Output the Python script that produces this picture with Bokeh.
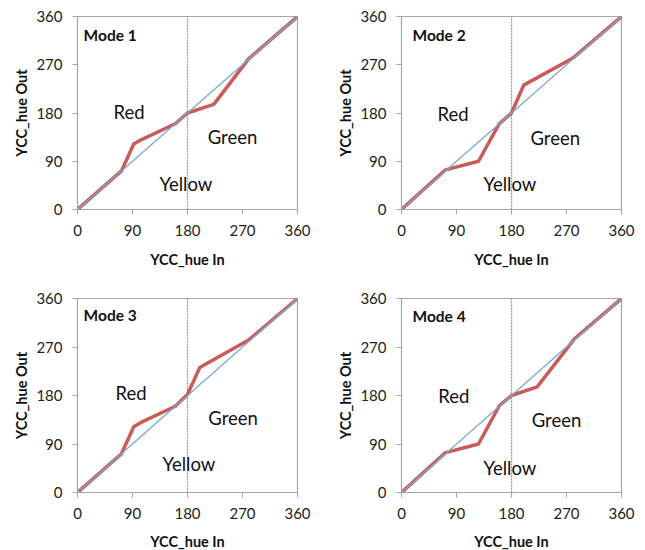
from bokeh.plotting import figure
from bokeh.layouts import column, row
from bokeh.models import Range1d, FixedTicker
from bokeh.core.properties import value
from bokeh.embed import file_html
from bokeh.resources import INLINE

# ---- data ----
ticks = [0, 90, 180, 270, 360]
diag_x = [0, 360]
diag_y = [0, 360]
split_x = [180, 180]
split_y = [0, 360]

mode1_x = [0, 72, 92, 104, 160, 180, 223, 280, 360]
mode1_y = [0, 72, 122, 130, 160, 180, 196, 281, 360]
mode2_x = [0, 72, 126, 160, 180, 200, 280, 360]
mode2_y = [0, 74, 90, 160, 180, 232, 282, 360]
mode3_x = [0, 72, 92, 104, 160, 180, 200, 280, 360]
mode3_y = [0, 72, 122, 130, 160, 182, 232, 283, 360]
mode4_x = [0, 72, 126, 160, 180, 222, 283, 360]
mode4_y = [0, 74, 90, 161, 180, 196, 285, 360]

titles = ["Mode 1", "Mode 2", "Mode 3", "Mode 4"]
title_x = [10, 18, 10, 18]
title_y = [326, 326, 330, 327]

region_names = ["Red", "Green", "Yellow"]
region_x = [[59, 213, 134], [59, 211, 134], [62, 214, 139], [60, 213, 134]]
region_y = [[181, 136, 48], [179, 134, 47], [184, 139, 52], [180, 134, 46]]

FONT = "Lato"
RED = "#C4534F"
BLUE = "#7BA7D7"
GRAY = "#A6A6A6"


def make(i, xs, ys, left, right, top, bottom, fh, xs_off, xa_off):
    p = figure(frame_width=220, frame_height=fh,
               x_range=Range1d(0, 360), y_range=Range1d(0, 360),
               output_backend="svg", toolbar_location=None,
               min_border_left=left, min_border_right=right,
               min_border_top=top, min_border_bottom=bottom,
               background_fill_color="white", border_fill_color="white")
    p.grid.visible = False
    p.outline_line_color = GRAY
    p.outline_line_width = 1.2
    p.xaxis.axis_label = "YCC_hue In"
    p.yaxis.axis_label = "YCC_hue Out"
    for ax in (p.xaxis, p.yaxis):
        ax.ticker = FixedTicker(ticks=ticks)
        ax.minor_tick_line_color = None
        ax.major_tick_in = 0
        ax.major_tick_out = 5
        ax.major_tick_line_color = GRAY
        ax.axis_line_color = GRAY
        ax.major_label_text_font = FONT
        ax.major_label_text_font_size = "15px"
        ax.major_label_text_color = "#222222"
        ax.axis_label_text_font = FONT
        ax.axis_label_text_font_size = "14.5px"
        ax.axis_label_text_font_style = "bold"
        ax.axis_label_text_color = "#111111"
    p.yaxis.major_label_standoff = 10
    p.yaxis.axis_label_standoff = 3
    p.xaxis.major_label_standoff = xs_off
    p.xaxis.axis_label_standoff = xa_off

    p.line(split_x, split_y, line_color="#9A9A9A", line_width=1.3, line_dash="2 1")
    p.line(xs, ys, line_color=RED, line_width=3.5, line_join="round", line_alpha=0.95)
    p.line(diag_x, diag_y, line_color=BLUE, line_width=1.3)

    p.text(x=[title_x[i]], y=[title_y[i]], text=[titles[i]],
           text_font=value(FONT), text_font_size="15.5px", text_font_style="bold",
           text_color="#111111", text_align="left", text_baseline="middle")
    p.text(x=region_x[i], y=region_y[i], text=region_names,
           text_font=value(FONT), text_font_size="18.5px",
           text_color="#111111", text_align="left", text_baseline="middle")
    return p


p1 = make(0, mode1_x, mode1_y, 77, 20, 16, 62, 193, 10, 12)
p2 = make(1, mode2_x, mode2_y, 84, 14, 16, 62, 193, 10, 12)
p3 = make(2, mode3_x, mode3_y, 77, 20, 27, 56, 194, 10, 11)
p4 = make(3, mode4_x, mode4_y, 84, 14, 27, 56, 194, 10, 11)

layout = column(row(p1, p2), row(p3, p4))

open("out.html", "w").write(file_html(layout, INLINE))
